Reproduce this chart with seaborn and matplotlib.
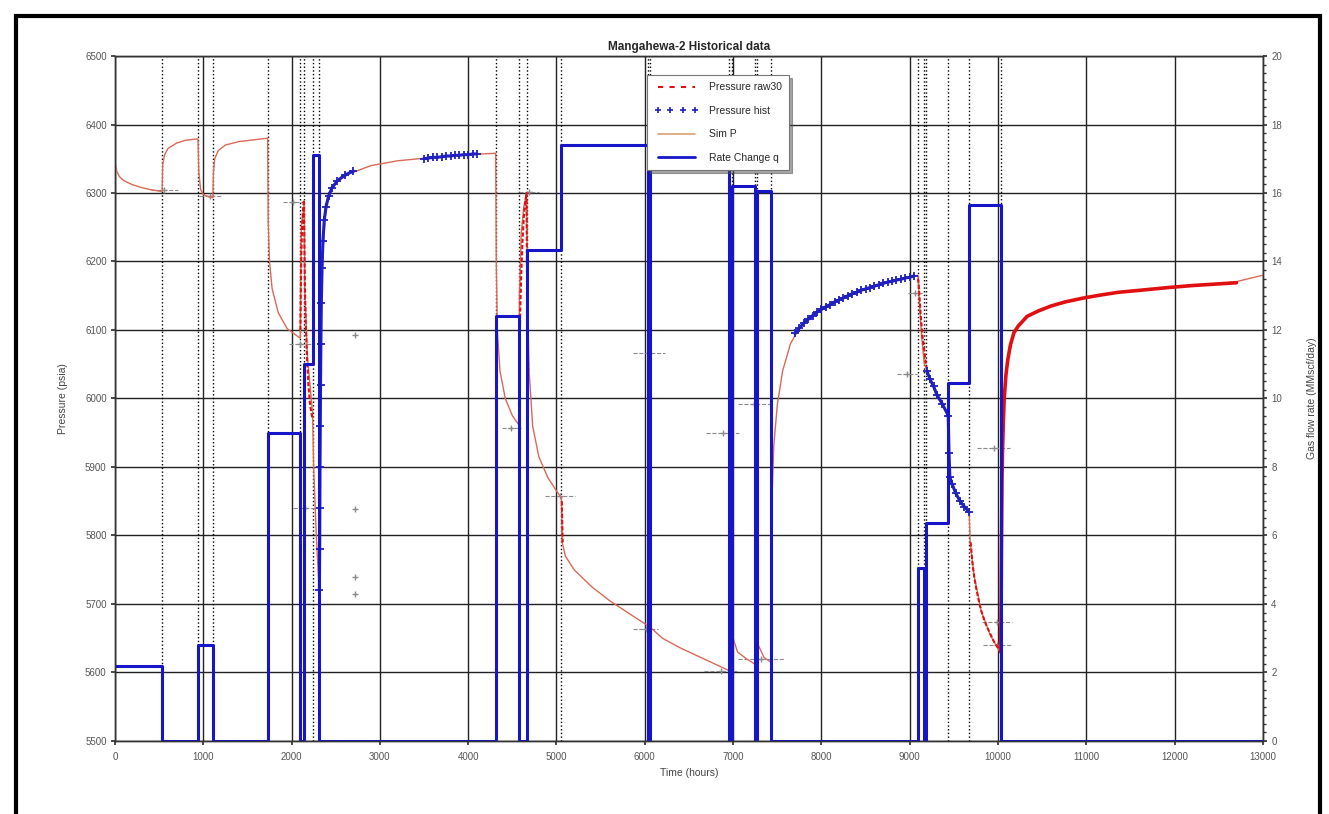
import matplotlib
matplotlib.use('Agg')
import pandas as pd
import matplotlib.pyplot as plt
from matplotlib.lines import Line2D
from matplotlib.patches import Rectangle
from matplotlib.ticker import MultipleLocator
import seaborn as sns

# rate history: time (hours) where each rate starts, gas rate (MMscf/day)
rate_t = [0, 534, 940, 1109, 1729, 2098, 2143, 2237, 2312, 4311, 4571, 4661, 5056, 6038, 6060,
          6950, 6990, 7250, 7275, 7427, 9095, 9165, 9190, 9436, 9673, 10030, 13000]
rate_q = [2.2, 0, 2.8, 0, 9.0, 0, 11.0, 17.1, 0, 12.4, 0, 14.35, 17.4, 0, 17.4,
          0, 16.2, 0, 16.05, 0, 5.05, 0, 6.36, 10.45, 15.65, 0, 0]

# simulated pressure
sim_t = [0, 20, 50, 100, 200, 300, 400, 534,
         540, 560, 600, 700, 800, 940,
         950, 970, 1000, 1050, 1109,
         1115, 1130, 1170, 1250, 1400, 1600, 1729,
         1735, 1750, 1780, 1850, 1950, 2098,
         2110, 2143, 2150, 2180, 2237, 2250, 2280, 2312,
         2318, 2325, 2335, 2350, 2380, 2420, 2500, 2650, 2900, 3200, 3600, 4000, 4311,
         4318, 4330, 4360, 4420, 4500, 4571,
         4580, 4600, 4630, 4661,
         4670, 4690, 4730, 4800, 4900, 5000, 5056,
         5065, 5100, 5200, 5400, 5600, 5800, 6038,
         6050, 6060, 6070, 6200, 6400, 6600, 6800, 6950,
         6965, 6990, 7000, 7050, 7150, 7250, 7260, 7275, 7285, 7350, 7427,
         7432, 7440, 7460, 7500, 7560, 7650, 7750, 8000, 8250, 8500, 8750, 9000, 9095,
         9110, 9135, 9165, 9190, 9200, 9230, 9300, 9436,
         9445, 9465, 9570, 9673, 9685, 9730, 9810, 9910, 10030,
         10035, 10045, 10060, 10080, 10110, 10180, 10330, 10600, 10980, 11360, 11930, 12680, 13000]
sim_p = [6345, 6332, 6324, 6318, 6312, 6308, 6305, 6302,
         6340, 6355, 6365, 6373, 6377, 6379,
         6330, 6305, 6298, 6295, 6293,
         6330, 6350, 6362, 6370, 6375, 6378, 6380,
         6260, 6200, 6160, 6125, 6102, 6088,
         6250, 6285, 6160, 6060, 5980, 5900, 5800, 5720,
         5790, 5960, 6110, 6200, 6265, 6296, 6315, 6328, 6340, 6347, 6352, 6356, 6358,
         6200, 6100, 6040, 6000, 5975, 5962,
         6150, 6240, 6280, 6300,
         6150, 6040, 5960, 5915, 5885, 5865, 5855,
         5790, 5770, 5750, 5725, 5705, 5688, 5668,
         5700, 5712, 5665, 5650, 5636, 5624, 5612, 5603,
         5680, 5700, 5650, 5630, 5620, 5612, 5680, 5705, 5640, 5622, 5615,
         5760, 5850, 5930, 5990, 6040, 6080, 6103, 6130, 6148, 6160, 6170, 6177, 6180,
         6140, 6090, 6050, 6045, 6040, 6028, 6005, 5975,
         5900, 5880, 5850, 5834, 5790, 5740, 5690, 5655, 5628,
         5760, 5880, 5960, 6020, 6056, 6096, 6120, 6135, 6147, 6155, 6162, 6170, 6180]

# historical pressure (blue crosses), run = continuous recording period
hist_t = [2315, 2318, 2320, 2322, 2325, 2328, 2332, 2337, 2345, 2355, 2370, 2390, 2420, 2460, 2520, 2600, 2700,
          3500, 3550, 3600, 3650, 3700, 3750, 3800, 3850, 3900, 3950, 4000, 4050, 4100,
          7700, 7750, 7800, 7850, 7900, 7950, 8000, 8050, 8100, 8150, 8200, 8250, 8300, 8350,
          8400, 8450, 8500, 8550, 8600, 8650, 8700, 8750, 8800, 8850, 8900, 8950, 9000, 9050,
          9195, 9230, 9270, 9310, 9370, 9436, 9445, 9455, 9480, 9520, 9570, 9620, 9673]
hist_p = [5720, 5780, 5840, 5900, 5960, 6020, 6080, 6140, 6190, 6230, 6260, 6280, 6296, 6308, 6318, 6326, 6332,
          6350, 6351, 6352, 6352, 6353, 6354, 6354, 6355, 6355, 6356, 6356, 6357, 6357,
          6095, 6103, 6110, 6116, 6121, 6126, 6130, 6134, 6137, 6141, 6144, 6147, 6150, 6153,
          6155, 6158, 6160, 6162, 6164, 6166, 6168, 6170, 6171, 6173, 6174, 6176, 6177, 6179,
          6040, 6028, 6018, 6005, 5992, 5975, 5920, 5885, 5875, 5862, 5850, 5842, 5834]
hist_run = [1] * 17 + [2] * 13 + [3] * 28 + [4] * 13

# raw 30-min pressure (red)
raw_t = [2100, 2105, 2110, 2120, 2130, 2140, 2145, 2150, 2160, 2175, 2190, 2210, 2237,
         4575, 4580, 4590, 4600, 4615, 4630, 4645, 4661, 4665, 4672, 4680,
         5060, 5065, 5070,
         6040, 6045, 6050, 6055,
         6955, 6965, 6975, 6988,
         7255, 7262, 7270,
         9095, 9105, 9115, 9125, 9135, 9145, 9155, 9165, 9175, 9185, 9195,
         9690, 9710, 9730, 9750, 9770, 9790, 9810, 9840, 9870, 9910, 9950, 10000,
         10030, 10035, 10040, 10045, 10050, 10060, 10070, 10090, 10110, 10140, 10180, 10230, 10330,
         10460, 10600, 10760, 10980, 11160, 11360, 11610, 11930, 12210, 12460, 12700]
raw_p = [6100, 6160, 6210, 6250, 6275, 6290, 6230, 6170, 6110, 6060, 6020, 5990, 5970,
         5990, 6060, 6130, 6180, 6230, 6265, 6285, 6300, 6200, 6100, 6040,
         5850, 5820, 5790,
         5670, 5700, 5730, 5755,
         5620, 5670, 5700, 5720,
         5640, 5690, 5720,
         6175, 6160, 6140, 6120, 6105, 6090, 6080, 6070, 6060, 6050, 6042,
         5790, 5760, 5740, 5725, 5712, 5700, 5690, 5678, 5668, 5657, 5646, 5636,
         5630, 5700, 5800, 5880, 5920, 5965, 6000, 6035, 6056, 6078, 6096, 6106, 6120,
         6128, 6135, 6141, 6147, 6151, 6155, 6158, 6162, 6165, 6167, 6169]
raw_run = [1] * 13 + [2] * 11 + [3] * 3 + [4] * 4 + [5] * 4 + [6] * 3 + [7] * 11 + [8] * 12 + [9] * 24

# averaged test points (grey), half-width of averaging window in hours
mark_t = [560, 1080, 2020, 2100, 2150, 2720, 2720, 2720, 2720, 4490, 4690, 5045,
          6050, 6010, 6880, 7240, 6860, 7320, 8970, 9060, 9950, 9990, 9990]
mark_p = [6305, 6295, 6287, 6080, 5840, 6093, 5838, 5740, 5715, 5957, 6302, 5858,
          6066, 5664, 5949, 5992, 5602, 5619, 6036, 6154, 5928, 5673, 5640]
mark_dt = [150, 130, 120, 130, 130, 0, 0, 0, 0, 110, 115, 170,
           180, 140, 190, 185, 185, 265, 110, 80, 185, 170, 160]

sns.set_theme(style='white')
plt.rcParams['font.family'] = ['Liberation Sans', 'DejaVu Sans']

fig = plt.figure(figsize=(13.29, 8.14), dpi=100)
ax = fig.add_axes([0.0865, 0.0897, 0.8638, 0.8415])
ax2 = ax.twinx()

# dotted markers at each rate change
for t in rate_t[1:-1]:
    ax.axvline(t, color='black', ls=':', lw=1, zorder=1)

eb = ax.errorbar(mark_t, mark_p, xerr=mark_dt, fmt='+', color='#8a8a8a', ms=4,
                 elinewidth=0.8, capsize=0, zorder=2)
eb[2][0].set_linestyle('--')

sns.lineplot(x=sim_t, y=sim_p, ax=ax, color='#d96a58', lw=1, sort=False,
             estimator=None, zorder=3)

raw = pd.DataFrame({'t': raw_t, 'p': raw_p, 'run': raw_run})
sns.lineplot(data=raw[raw['run'] < 9], x='t', y='p', units='run', estimator=None, sort=False,
             ax=ax, color='#e01010', lw=1.5, ls=(0, (2, 1)), zorder=4)
sns.lineplot(data=raw[raw['run'] == 9], x='t', y='p', units='run', estimator=None, sort=False,
             ax=ax, color='#e01010', lw=2.6, zorder=4)

hist = pd.DataFrame({'t': hist_t, 'p': hist_p, 'run': hist_run})
sns.lineplot(data=hist, x='t', y='p', units='run', estimator=None, sort=False, ax=ax,
             color='#2020c0', lw=2.2, marker='+', markersize=6, markeredgewidth=1.3,
             markeredgecolor='#2020c0', zorder=5)

sns.lineplot(x=rate_t, y=rate_q, ax=ax2, drawstyle='steps-post', color='#1616c8', lw=2.2,
             sort=False, estimator=None)

ax.set_xlim(0, 13000)
ax.set_ylim(5500, 6500)
ax2.set_ylim(0, 20)
ax.xaxis.set_major_locator(MultipleLocator(1000))
ax.yaxis.set_major_locator(MultipleLocator(100))
ax2.yaxis.set_major_locator(MultipleLocator(2))
ax2.yaxis.set_minor_locator(MultipleLocator(0.25))

ax.grid(True, color='#222222', lw=1)
ax.set_axisbelow(True)

ax.tick_params(axis='both', labelsize=7, labelcolor='#555555', length=3, left=True, bottom=True,
               pad=3, color='#333333')
ax.tick_params(axis='x', pad=5)
ax2.tick_params(axis='y', which='major', labelsize=7, labelcolor='#555555', length=3, right=True,
                pad=3, color='#333333')
ax2.tick_params(axis='y', which='minor', length=2, right=True, color='#333333')
for a in (ax, ax2):
    for s in a.spines.values():
        s.set_color('#333333')
        s.set_linewidth(1)

ax.set_xlabel('Time (hours)', fontsize=7.5, color='#444444', labelpad=4)
ax.set_ylabel('Pressure (psia)', fontsize=7.5, color='#444444', labelpad=12)
ax2.set_ylabel('Gas flow rate (MMscf/day)', fontsize=7.5, color='#444444', labelpad=18)
ax.set_title('Mangahewa-2 Historical data', fontsize=8.5, fontweight='bold', pad=4)

handles = [
    Line2D([], [], color='#e01010', ls=(0, (2.5, 3)), lw=1.5),
    Line2D([], [], color='#2020c0', ls='none', marker='+', ms=5, mew=1.2),
    Line2D([], [], color='#d9a070', lw=1.2),
    Line2D([], [], color='#1616c8', lw=2),
]
labels = ['Pressure raw30', 'Pressure hist', 'Sim P', 'Rate Change q']
leg = ax2.legend(handles, labels, loc='upper left', bbox_to_anchor=(0.459, 0.98),
                 fontsize=7.5, frameon=True, fancybox=False, shadow=True, numpoints=4,
                 handlelength=4.2, handletextpad=1.0, borderpad=0.7, labelspacing=1.3,
                 framealpha=1)
leg.get_frame().set_edgecolor('#777777')
leg.get_frame().set_linewidth(0.8)

fig.patches.append(Rectangle((0.012, -0.02), 0.9812, 1.0003, transform=fig.transFigure,
                             fill=False, lw=3, ec='black'))

fig.savefig('out.png', dpi=100)
